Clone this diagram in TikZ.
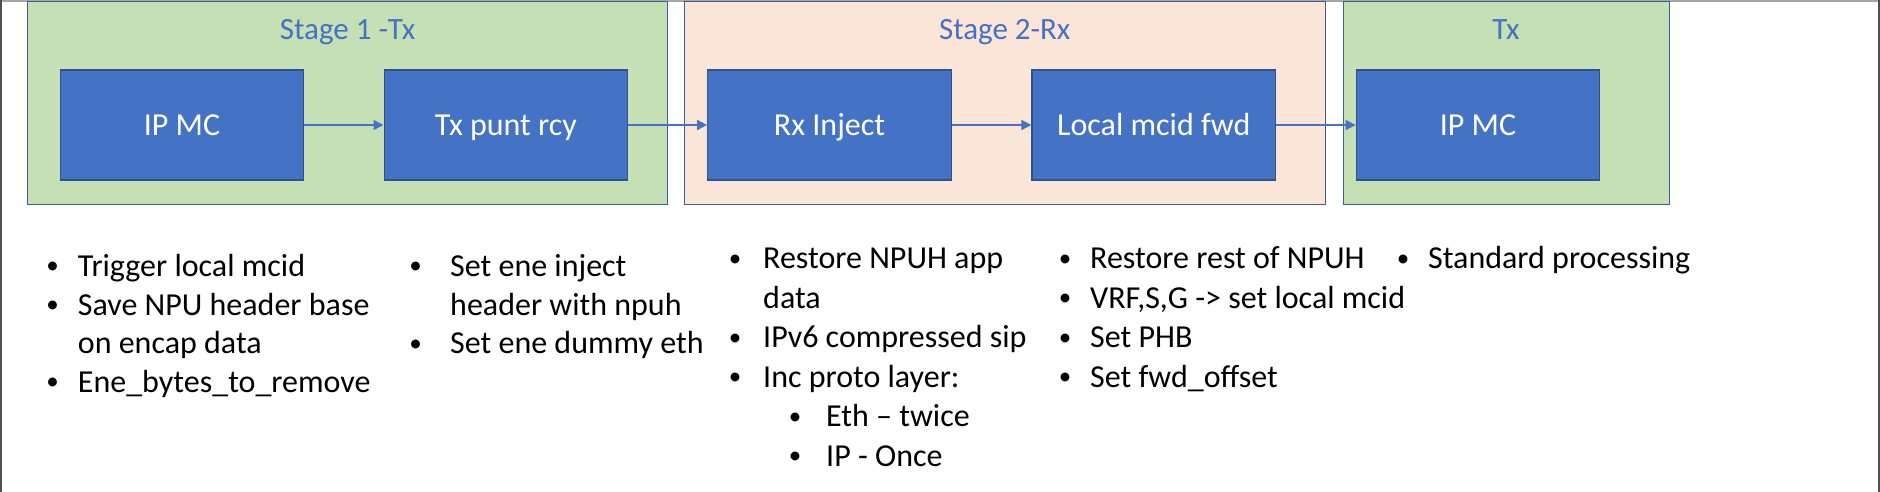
\documentclass[tikz,border=0pt]{standalone}
\usepackage{fontspec}
\setmainfont{Carlito}
\usetikzlibrary{arrows.meta}
\definecolor{boxfill}{HTML}{4472C4}
\definecolor{boxborder}{HTML}{2F528F}
\definecolor{stageborder}{HTML}{3B5E9E}
\definecolor{greenfill}{HTML}{C5E0B4}
\definecolor{peachfill}{HTML}{FBE5D6}
\definecolor{titleblue}{HTML}{4472C4}
\definecolor{framedark}{HTML}{505050}
\definecolor{framelight}{HTML}{A6A6A6}
\begin{document}
\begin{tikzpicture}[x=1pt,y=-1pt,
  stagebox/.style={draw=stageborder, line width=1pt, inner sep=0pt, minimum height=202.5pt},
  procbox/.style={draw=boxborder, fill=boxfill, line width=1.2pt, text=white,
    font=\fontsize{32}{38}\selectfont, minimum width=243.5pt, minimum height=110pt,
    inner sep=0pt, text height=21pt, text depth=0pt},
  stagetitle/.style={text=titleblue, font=\fontsize{31}{37}\selectfont, anchor=base, inner sep=0pt},
  flow/.style={draw=boxfill, line width=1.5pt, -{Triangle[length=10pt,width=10pt]}},
  bul/.style={anchor=base, inner sep=0pt, yshift=2.5pt, font=\fontsize{25}{30}\selectfont},
  btext/.style={anchor=base west, inner sep=0pt, font=\fontsize{32}{38}\selectfont},
]
\useasboundingbox (0,0) rectangle (1880,492);
% outer frame
\draw[framelight, line width=2pt] (0,1) -- (1880,1);
\draw[framedark, line width=2pt] (1,0) -- (1,492);
\draw[framedark, line width=2pt] (1879,0) -- (1879,492);

% stage containers
\node[stagebox, fill=greenfill, minimum width=639.7pt] (s1) at (347.55,102.75) {};
\node[stagebox, fill=peachfill, minimum width=640.5pt] (s2) at (1004.75,102.75) {};
\node[stagebox, fill=greenfill, minimum width=326pt] (s3) at (1506,102.75) {};

\node[stagetitle] (t1) at (347.55,39.5) {Stage 1 -Tx};
\node[stagetitle] (t2) at (1004.75,39.5) {Stage 2-Rx};
\node[stagetitle] (t3) at (1506,39.5) {Tx};

% process boxes
\node[procbox] (b1) at (181.95,125) {IP MC};
\node[procbox] (b2) at (505.85,125) {Tx punt rcy};
\node[procbox] (b3) at (829.5,125) {Rx Inject};
\node[procbox] (b4) at (1153.75,125) {Local mcid fwd};
\node[procbox] (b5) at (1478,125) {IP MC};

\draw[flow] (b1.east) -- (b2.west);
\draw[flow] (b2.east) -- (b3.west);
\draw[flow] (b3.east) -- (b4.west);
\draw[flow] (b4.east) -- (b5.west);

% column 1
\node[bul] (c1b1) at (52.7,276) {•};
\node[btext] (c1l1) at (77.7,276) {Trigger local mcid};
\node[bul] (c1b2) at (52.7,315) {•};
\node[btext] (c1l2) at (77.7,315) {Save NPU header base};
\node[btext] (c1l3) at (77.7,353.5) {on encap data};
\node[bul] (c1b4) at (52.7,392) {•};
\node[btext] (c1l4) at (77.7,392) {Ene\_bytes\_to\_remove};

% column 2
\node[bul] (c2b1) at (415.5,276) {•};
\node[btext] (c2l1) at (450,276) {Set ene inject};
\node[btext] (c2l2) at (450,315) {header with npuh};
\node[bul] (c2b3) at (415.5,353.5) {•};
\node[btext] (c2l3) at (450,353.5) {Set ene dummy eth};

% column 3
\node[bul] (c3b1) at (735,268.5) {•};
\node[btext] (c3l1) at (763,268.5) {Restore NPUH app};
\node[btext] (c3l2) at (763,308) {data};
\node[bul] (c3b3) at (735,347.5) {•};
\node[btext] (c3l3) at (763,347.5) {IPv6 compressed sip};
\node[bul] (c3b4) at (735,387) {•};
\node[btext] (c3l4) at (763,387) {Inc proto layer:};
\node[bul] (c3b5) at (795,426.5) {•};
\node[btext] (c3l5) at (826,426.5) {Eth – twice};
\node[bul] (c3b6) at (795,466) {•};
\node[btext] (c3l6) at (826,466) {IP - Once};

% column 4
\node[bul] (c4b1) at (1065,268.5) {•};
\node[btext] (c4l1) at (1090,268.5) {Restore rest of NPUH};
\node[bul] (c4b2) at (1065,308) {•};
\node[btext] (c4l2) at (1090,308) {VRF,S,G -> set local mcid};
\node[bul] (c4b3) at (1065,347.5) {•};
\node[btext] (c4l3) at (1090,347.5) {Set PHB};
\node[bul] (c4b4) at (1065,387) {•};
\node[btext] (c4l4) at (1090,387) {Set fwd\_offset};

% column 5
\node[bul] (c5b1) at (1403,268.5) {•};
\node[btext] (c5l1) at (1428,268.5) {Standard processing};
\end{tikzpicture}
\end{document}
